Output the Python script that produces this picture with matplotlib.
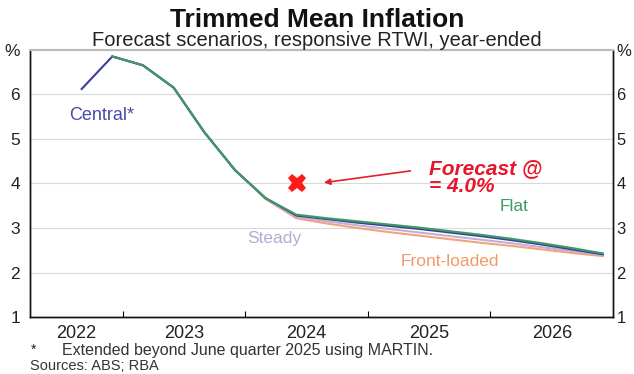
""" Trimmed mean inflation forecast scenarios. """

import numpy as np
import matplotlib.pyplot as plt

""" Data """

# quarters Q3 2022 .. Q4 2026, plotted at the middle month of each quarter
quarters = [2022.667 + 0.25 * i for i in range(18)]

central = [6.12, 6.85, 6.65, 6.15, 5.15, 4.30, 3.67, 3.28, 3.20, 3.12,
           3.05, 2.98, 2.90, 2.82, 2.73, 2.63, 2.52, 2.41]
flat = [np.nan, 6.85, 6.65, 6.15, 5.15, 4.30, 3.67, 3.30, 3.22, 3.15,
        3.08, 3.01, 2.93, 2.85, 2.76, 2.66, 2.55, 2.43]
steady = [np.nan, 6.85, 6.65, 6.15, 5.15, 4.30, 3.66, 3.25, 3.15, 3.06,
          2.98, 2.90, 2.82, 2.74, 2.66, 2.57, 2.48, 2.39]
front_loaded = [np.nan, 6.85, 6.65, 6.15, 5.15, 4.30, 3.65, 3.22, 3.10, 3.00,
                2.91, 2.83, 2.75, 2.67, 2.60, 2.52, 2.44, 2.37]

forecast_point = (2024.42, 4.0)
years = [2022, 2023, 2024, 2025, 2026]
y_labels = ['1', '2', '3', '4', '5', '6', '%']

""" Plot """

plt.rcParams['font.family'] = ['Liberation Sans', 'DejaVu Sans']

X_START, X_END = 2022.244, 2027.0

fig = plt.figure(figsize=(6.34, 3.74), dpi=100)
ax = fig.add_axes([0.047, 0.152, 0.920, 0.715])

ax.plot(quarters, front_loaded, color='#f4a27a', lw=1.5)
ax.plot(quarters, steady, color='#c0b0d8', lw=1.5)
ax.plot(quarters, central, color='#3a3f95', lw=1.5)
ax.plot(quarters, flat, color='#3d9a64', lw=1.5)

ax.plot(*forecast_point, marker='X', color='#ff1a1a', markersize=13,
        markeredgewidth=0)
ax.annotate('', xy=(2024.62, 4.01), xytext=(2025.37, 4.29),
            arrowprops=dict(arrowstyle='-|>', color='#e0202a', lw=1.2,
                            mutation_scale=9))
ax.text(2025.50, 4.14, 'Forecast @\n= 4.0%', color='#e8162a', fontsize=15,
        fontweight='bold', fontstyle='italic', va='center', ha='left',
        linespacing=0.95)

ax.text(2022.83, 5.53, 'Central*', color='#4a4aa8', fontsize=13,
        ha='center', va='center')
ax.text(2024.24, 2.76, 'Steady', color='#b8aad0', fontsize=12.5,
        ha='center', va='center')
ax.text(2026.19, 3.48, 'Flat', color='#3d9a64', fontsize=12.5,
        ha='center', va='center')
ax.text(2025.67, 2.25, 'Front-loaded', color='#f09a6a', fontsize=12.5,
        ha='center', va='center')

# axes
ax.set_xlim(X_START, X_END)
ax.set_ylim(1, 7)
ax.set_xticks([y + 1 for y in years[:-1]])
label_pos = [(max(y, X_START) + min(y + 1, X_END)) / 2 for y in years]
ax.set_xticks(label_pos, minor=True)
ax.set_xticklabels(years, minor=True, fontsize=13, color='#222222')
ax.tick_params(axis='x', which='major', direction='in', length=4,
               labelbottom=False)
ax.tick_params(axis='x', which='minor', length=0, pad=6)

ax.set_yticks(range(1, 8))
ax.set_yticklabels(y_labels, fontsize=12.5, color='#222222')
ax.tick_params(axis='y', length=0, pad=7)
ax.grid(axis='y', color='#d9d9d9', lw=0.8)

# right-hand labels sit closer to the axis
ax_r = ax.twinx()
ax_r.set_ylim(1, 7)
ax_r.set_yticks(range(1, 8))
ax_r.set_yticklabels(y_labels, fontsize=12, color='#222222')
ax_r.tick_params(axis='y', length=0, pad=2.5)

for a in (ax, ax_r):
    for side in ['left', 'right', 'bottom']:
        a.spines[side].set_color('#111111')
        a.spines[side].set_linewidth(1.0)
    a.spines['top'].set_color('#bbbbbb')
    a.spines['top'].set_linewidth(1.5)

fig.text(0.5, 0.947, 'Trimmed Mean Inflation', ha='center', va='center',
         fontsize=19, fontweight='bold', color='#111111')
fig.text(0.5, 0.893, 'Forecast scenarios, responsive RTWI, year-ended',
         ha='center', va='center', fontsize=14.5, color='#222222')

fig.text(0.048, 0.064, '*', fontsize=10, color='#222222', va='center')
fig.text(0.098, 0.064, 'Extended beyond June quarter 2025 using MARTIN.',
         fontsize=11.5, color='#333333', va='center')
fig.text(0.047, 0.021, 'Sources: ABS; RBA', fontsize=10.5, color='#333333',
         va='center')

fig.savefig('out.png', dpi=100)
